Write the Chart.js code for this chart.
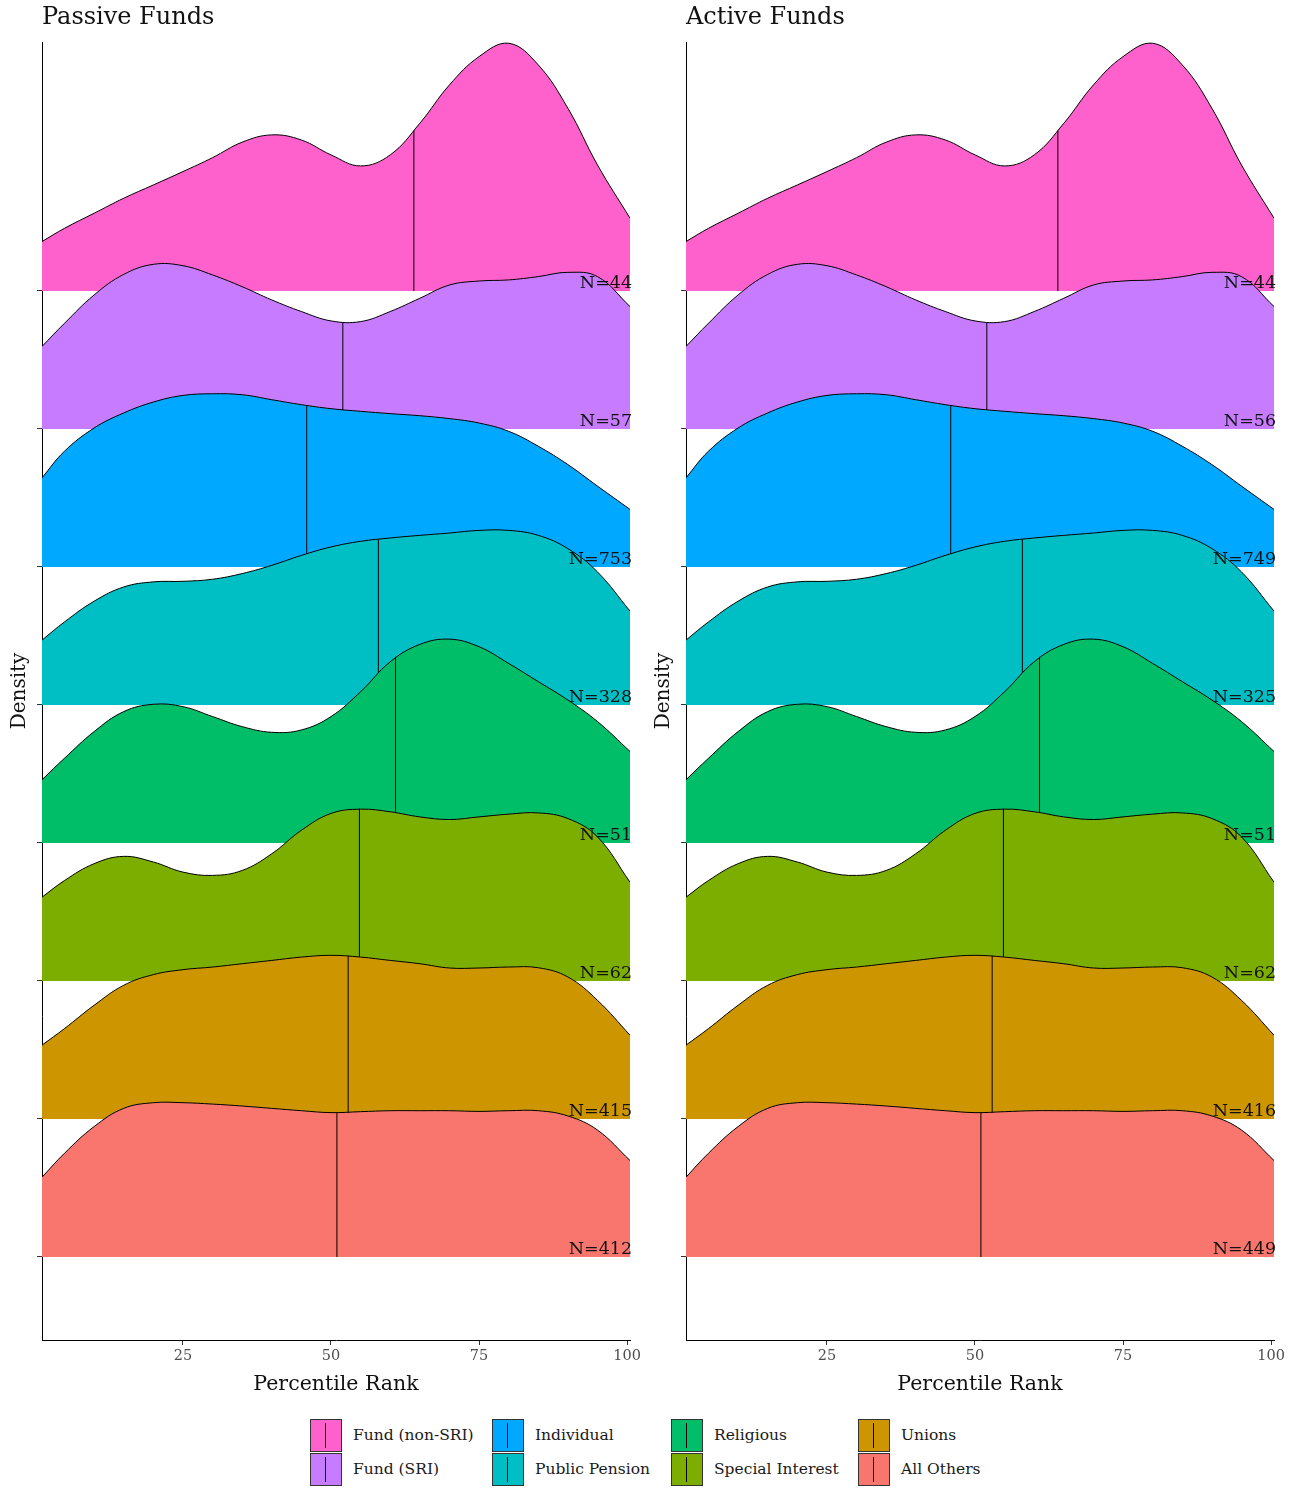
<!DOCTYPE html>
<html>
<head>
<meta charset="utf-8">
<title>Percentile Rank by Proponent Type</title>
<script src="https://cdn.jsdelivr.net/npm/chart.js@4/dist/chart.umd.min.js"></script>
<style>
  html, body { margin: 0; padding: 0; background: #fff; }
  #wrap { position: relative; width: 1301px; height: 1488px; }
  canvas { position: absolute; top: 0; }
  .legend { position: absolute; font-family: "DejaVu Serif", serif; font-size: 15.5px; color: #1a1a1a; }
  .item { position: absolute; height: 33px; white-space: nowrap; }
  .sw { position: absolute; left: 0; top: 0; width: 30px; height: 31px; border: 1px solid #333; }
  .sw::after { content: ""; position: absolute; left: 14px; top: 3px; width: 1px; height: 25px; background: #000; }
  .lbl { position: absolute; top: 0; line-height: 33px; }
</style>
</head>
<body>
<div id="wrap">
  <canvas id="passive" width="644" height="1400" style="left:0"></canvas>
  <canvas id="active" width="644" height="1400" style="left:644px"></canvas>
  <div class="legend" id="legend"></div>
</div>
<script>
// Proponent groups, top ridge first
const categories = ["Fund (non-SRI)", "Fund (SRI)", "Individual", "Public Pension",
                    "Religious", "Special Interest", "Unions", "All Others"];
const colors = ["#FF61CC", "#C77CFF", "#00A9FF", "#00BFC4",
                "#00BE67", "#7CAE00", "#CD9600", "#F8766D"];

// Percentile-rank positions at which the ridge heights are given
const rankGrid = [1.2, 5, 10, 15, 20, 25, 30, 35, 40, 45, 50, 55, 60, 65, 70, 75, 80, 85, 90, 95, 100.5];

// Scaled density heights (in ridge-spacing units), one array per group
const fundNonSri     = [0.358, 0.454, 0.563, 0.672, 0.768, 0.865, 0.966, 1.078, 1.131, 1.094, 0.986, 0.906, 0.986, 1.215, 1.493, 1.698, 1.795, 1.638, 1.324, 0.913, 0.527];
const fundSri        = [0.598, 0.766, 0.971, 1.120, 1.193, 1.183, 1.116, 1.031, 0.935, 0.851, 0.783, 0.778, 0.851, 0.947, 1.043, 1.072, 1.080, 1.104, 1.135, 1.104, 0.887];
const individual     = [0.646, 0.839, 1.007, 1.116, 1.195, 1.243, 1.255, 1.248, 1.212, 1.176, 1.147, 1.128, 1.111, 1.096, 1.075, 1.043, 0.983, 0.875, 0.742, 0.586, 0.417];
const publicPension  = [0.470, 0.602, 0.752, 0.855, 0.892, 0.896, 0.911, 0.952, 1.012, 1.084, 1.145, 1.186, 1.210, 1.229, 1.246, 1.265, 1.265, 1.229, 1.133, 0.964, 0.680];
const religious      = [0.458, 0.614, 0.807, 0.952, 1.005, 0.988, 0.916, 0.843, 0.802, 0.819, 0.916, 1.096, 1.313, 1.439, 1.477, 1.422, 1.301, 1.169, 1.036, 0.880, 0.663];
const specialInterest= [0.607, 0.728, 0.850, 0.903, 0.862, 0.789, 0.765, 0.801, 0.922, 1.092, 1.214, 1.245, 1.226, 1.189, 1.170, 1.189, 1.209, 1.218, 1.177, 1.044, 0.716];
const unions         = [0.535, 0.655, 0.824, 0.969, 1.046, 1.082, 1.101, 1.125, 1.149, 1.173, 1.186, 1.173, 1.149, 1.125, 1.094, 1.094, 1.101, 1.096, 1.029, 0.860, 0.607];
const allOthers      = [0.578, 0.752, 0.945, 1.077, 1.118, 1.118, 1.108, 1.094, 1.077, 1.060, 1.046, 1.053, 1.060, 1.060, 1.060, 1.055, 1.060, 1.060, 1.022, 0.920, 0.699];
const densities = [fundNonSri, fundSri, individual, publicPension, religious, specialInterest, unions, allOthers];

// Median percentile rank of each group and the ridge height at the median
const medians       = [64.0, 52.0, 45.9, 58.0, 60.9, 54.8, 52.9, 51.0];
const medianHeights = [1.162, 0.771, 1.171, 1.200, 1.349, 1.250, 1.183, 1.043];

// Group sizes
const passiveCounts = [44, 57, 753, 328, 51, 62, 415, 412];
const activeCounts  = [44, 56, 749, 325, 51, 62, 416, 449];

// Axis ticks
const xTicks = [25, 50, 75, 100];
const yTicks = [1, 2, 3, 4, 5, 6, 7, 8];

const SERIF = '"DejaVu Serif", serif';

function buildDatasets() {
  const out = [];
  const n = categories.length;
  categories.forEach((cat, i) => {
    const base = n - i;
    out.push({
      label: cat,
      data: rankGrid.map((x, k) => ({ x, y: base + densities[i][k] })),
      borderColor: '#000',
      borderWidth: 1,
      backgroundColor: colors[i],
      fill: { value: base },
      pointRadius: 0,
      tension: 0.4,
      order: 100 - 2 * i
    });
    out.push({
      label: cat + ' median',
      data: [{ x: medians[i], y: base }, { x: medians[i], y: base + medianHeights[i] }],
      borderColor: '#000',
      borderWidth: 1,
      fill: false,
      pointRadius: 0,
      order: 99 - 2 * i
    });
  });
  return out;
}

function panelText(title, counts) {
  return {
    id: 'panelText',
    afterDatasetsDraw(chart) {
      const ctx = chart.ctx, y = chart.scales.y, a = chart.chartArea;
      ctx.save();
      ctx.fillStyle = '#111';
      ctx.font = '17.5px ' + SERIF;
      ctx.textAlign = 'right';
      ctx.textBaseline = 'alphabetic';
      counts.forEach((c, i) => {
        ctx.fillText('N=' + c, a.right + 2, y.getPixelForValue(categories.length - i) - 3);
      });
      ctx.restore();
    },
    afterDraw(chart) {
      const ctx = chart.ctx, a = chart.chartArea;
      ctx.save();
      ctx.fillStyle = '#111';
      ctx.textBaseline = 'middle';
      ctx.textAlign = 'left';
      ctx.font = '24px ' + SERIF;
      ctx.fillText(title, a.left, 18);
      ctx.textAlign = 'center';
      ctx.font = '20.5px ' + SERIF;
      ctx.fillText('Percentile Rank', (a.left + a.right) / 2, 1385);
      ctx.font = '20px ' + SERIF;
      ctx.translate(20, (a.top + a.bottom) / 2);
      ctx.rotate(-Math.PI / 2);
      ctx.fillText('Density', 0, 0);
      ctx.restore();
    }
  };
}

function makePanel(id, title, counts) {
  new Chart(document.getElementById(id), {
    type: 'line',
    data: { datasets: buildDatasets() },
    options: {
      responsive: false,
      animation: false,
      devicePixelRatio: 1,
      layout: { padding: { top: 42, right: 13, left: 0, bottom: 0 } },
      plugins: { legend: { display: false }, tooltip: { enabled: false }, title: { display: false } },
      scales: {
        x: {
          type: 'linear', min: 1.2, max: 100.5,
          afterBuildTicks: s => { s.ticks = xTicks.map(v => ({ value: v })); },
          ticks: { font: { family: SERIF, size: 14.5 }, color: '#4d4d4d', padding: 3, maxRotation: 0, autoSkip: false },
          grid: { drawOnChartArea: false, drawTicks: true, tickLength: 5, color: '#333' },
          border: { display: true, color: '#000', width: 1 },
          afterFit: s => { s.height = 60; }
        },
        y: {
          type: 'linear', min: 0.3985, max: 9.804,
          afterBuildTicks: s => { s.ticks = yTicks.map(v => ({ value: v })); },
          ticks: { display: false },
          grid: { drawOnChartArea: false, drawTicks: true, tickLength: 5, color: '#333' },
          border: { display: true, color: '#000', width: 1 },
          afterFit: s => { s.width = 42; }
        }
      }
    },
    plugins: [panelText(title, counts)]
  });
}

makePanel('passive', 'Passive Funds', passiveCounts);
makePanel('active', 'Active Funds', activeCounts);

// Legend: two rows, filled column by column
const legendCols = [310, 492, 671, 858];
const legendRows = [1419, 1453];
const legend = document.getElementById('legend');
categories.forEach((cat, i) => {
  const col = Math.floor(i / 2), row = i % 2;
  const item = document.createElement('div');
  item.className = 'item';
  item.style.left = legendCols[col] + 'px';
  item.style.top = legendRows[row] + 'px';
  const sw = document.createElement('div');
  sw.className = 'sw';
  sw.style.background = colors[i];
  const lbl = document.createElement('div');
  lbl.className = 'lbl';
  lbl.style.left = '43px';
  lbl.textContent = cat;
  item.appendChild(sw);
  item.appendChild(lbl);
  legend.appendChild(item);
});
</script>
</body>
</html>
